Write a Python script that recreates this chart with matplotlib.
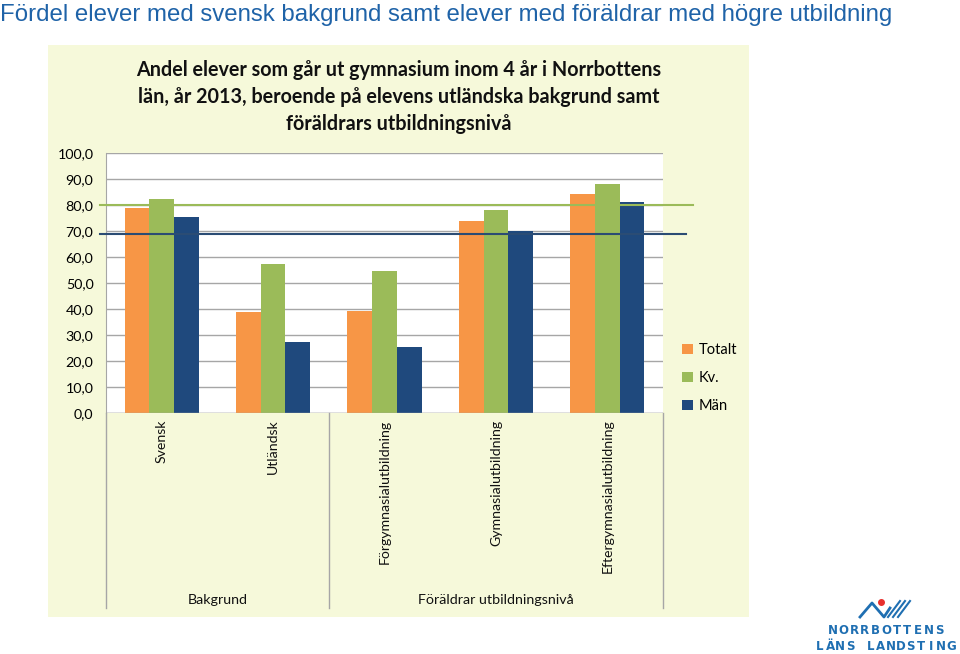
import matplotlib
matplotlib.use("Agg")
import matplotlib.pyplot as plt
from matplotlib.patches import Rectangle
import numpy as np

# ---- data ----
categories = ["Svensk", "Utländsk", "Förgymnasialutbildning", "Gymnasialutbildning", "Eftergymnasialutbildning"]
groups = ["Bakgrund", "Föräldrar utbildningsnivå"]
group_sizes = [2, 3]
series_names = ["Totalt", "Kv.", "Män"]
totalt = [78.7, 38.8, 39.3, 73.8, 84.3]
kvinnor = [82.5, 57.5, 54.6, 78.1, 88.2]
man = [75.3, 27.2, 25.4, 69.9, 81.2]
ref_kv = 80.0
ref_man = 69.0
yticks = [0, 10, 20, 30, 40, 50, 60, 70, 80, 90, 100]

main_title = "Fördel elever med svensk bakgrund samt elever med föräldrar med högre utbildning"
chart_title = ("Andel elever som går ut gymnasium inom 4 år i Norrbottens\n"
               "län, år 2013, beroende på elevens utländska bakgrund samt\n"
               "föräldrars utbildningsnivå")

colors = ["#F79646", "#9BBB59", "#1F497D"]
W, H = 960, 654

fig = plt.figure(figsize=(W / 100, H / 100), dpi=100)
fig.patch.set_facecolor("white")

def fx(px):
    return px / W

def fy(py):
    return 1 - py / H

# chart area background
bg = Rectangle((fx(48), fy(617)), fx(749) - fx(48), fy(45) - fy(617),
               transform=fig.transFigure, facecolor="#F6F9DA",
               edgecolor="none", zorder=-5)
fig.add_artist(bg)

fig.text(fx(0), fy(15), main_title, fontsize=17.3, color="#1F63A8",
         family="Liberation Sans", ha="left", va="center")

fig.text(fx(399), fy(97), chart_title, fontsize=14.2, fontweight="bold",
         family="Lato", ha="center", va="center", linespacing=1.42, color="#111111")

ax = fig.add_axes([fx(106), fy(413), fx(663) - fx(106), fy(153) - fy(413)], zorder=2)
ax.set_facecolor("white")
x = np.arange(len(categories))
bw = 1 / 4.5
for i, (vals, c, n) in enumerate(zip([totalt, kvinnor, man], colors, series_names)):
    ax.bar(x + (i - 1) * bw, vals, width=bw, color=c, label=n, zorder=3)

ax.set_xlim(-0.5, len(categories) - 0.5)
ax.set_ylim(0, 100)
ax.set_yticks(yticks)
ax.set_yticklabels([f"{v:.1f}".replace(".", ",") for v in yticks], family="Lato", fontsize=10.3)
ax.yaxis.grid(True, color="#A6A6A6", linewidth=1, zorder=0)
ax.set_axisbelow(True)
ax.tick_params(axis="y", length=0, pad=9)
ax.tick_params(axis="x", length=0)
ax.set_xticks([])
for s in ["top", "right", "bottom"]:
    ax.spines[s].set_visible(False)
ax.spines["left"].set_color("#A6A6A6")
ax.axhline(0, color="#A6A6A6", linewidth=1, zorder=4)

# reference lines (extending beyond plot area)
ax.plot([-0.011, 1.054], [ref_kv, ref_kv], transform=ax.get_yaxis_transform(),
        color="#9BBB59", linewidth=1.5, clip_on=False, zorder=5)
ax.plot([-0.011, 1.041], [ref_man, ref_man], transform=ax.get_yaxis_transform(),
        color="#2B4C74", linewidth=1.5, clip_on=False, zorder=5)

# category labels
trans = ax.get_xaxis_transform()
for xi, cat in zip(x, categories):
    ax.text(xi, -0.025, cat, rotation=90, ha="center", va="top", family="Lato",
            fontsize=10.2, transform=trans, color="#111111")

# group separators and labels
bounds = np.concatenate([[0], np.cumsum(group_sizes)]) - 0.5
for b in bounds:
    ax.plot([b, b], [0, -0.75], transform=trans, color="#A6A6A6", linewidth=1, clip_on=False)
for g, a, b in zip(groups, bounds[:-1], bounds[1:]):
    ax.text((a + b) / 2, -0.718, g, ha="center", va="center", family="Lato",
            fontsize=10.3, transform=trans, color="#111111")

leg = ax.legend(loc="upper left", bbox_to_anchor=(1.035, 0.268), frameon=False,
                handlelength=0.7, handleheight=0.7, handletextpad=0.4,
                labelspacing=0.95, borderpad=0, borderaxespad=0,
                prop={"family": "Lato", "size": 10.5})

# logo
logo_color = "#1F6FB2"
def spaced(text, x0, x1, y):
    n = len(text)
    xs = np.linspace(x0, x1, n)
    for ch, xx in zip(text, xs):
        fig.text(fx(xx), fy(y), ch, fontsize=8.5, fontweight="bold", color=logo_color,
                 family="DejaVu Sans", ha="center", va="center")
spaced("NORRBOTTENS", 833, 939, 631)
spaced("LÄNS LANDSTING", 820, 951, 647)
fig.add_artist(plt.Line2D([fx(860), fx(872), fx(884), fx(890)],
                          [fy(617), fy(603), fy(617), fy(608)],
                          transform=fig.transFigure, color=logo_color, linewidth=2))
for k in range(3):
    fig.add_artist(plt.Line2D([fx(888 + 5 * k), fx(900 + 5 * k)],
                              [fy(617), fy(601)],
                              transform=fig.transFigure, color=logo_color, linewidth=1.5))
fig.add_artist(plt.Line2D([fx(881)], [fy(602)], marker="o", markersize=4,
                          color="#E8302E", transform=fig.transFigure))

fig.savefig("out.png", dpi=100, facecolor=fig.get_facecolor())
